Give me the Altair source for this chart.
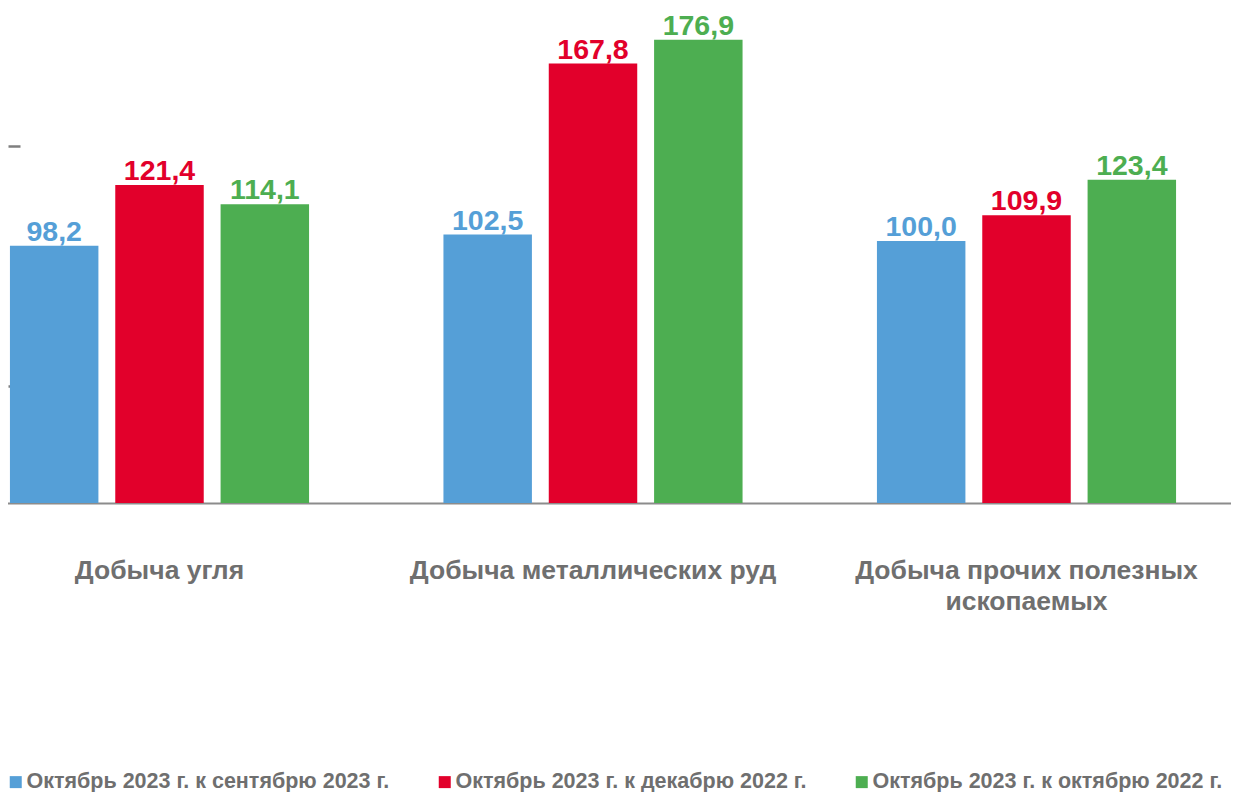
import altair as alt
import pandas as pd

categories = ["Добыча угля", "Добыча металлических руд", "Добыча прочих полезных ископаемых"]
series = [
    "Октябрь 2023 г. к сентябрю 2023 г.",
    "Октябрь 2023 г. к декабрю 2022 г.",
    "Октябрь 2023 г. к октябрю 2022 г.",
]
vals_sep = [98.2, 102.5, 100.0]
vals_dec = [121.4, 167.8, 109.9]
vals_oct = [114.1, 176.9, 123.4]
colors = ["#559FD7", "#E2002B", "#4DAE51"]
y_ticks = [44.5, 136.4]

rows = []
for s, vals in zip(series, [vals_sep, vals_dec, vals_oct]):
    for c, v in zip(categories, vals):
        rows.append({"cat": c, "series": s, "value": v,
                     "label": f"{v:.1f}".replace(".", ",")})
df = pd.DataFrame(rows)

grey = "#6f6f6f"

x_enc = alt.X(
    "cat:N", sort=categories,
    scale=alt.Scale(range=[-65.25, 1235.25], paddingInner=0, paddingOuter=0),
    axis=alt.Axis(
        title=None, labelAngle=0, ticks=False, grid=False,
        domainColor="#8c8c8c", domainWidth=2,
        labelFontSize=26.5, labelFontWeight="bold", labelColor=grey,
        labelPadding=54, labelBaseline="top", labelLineHeight=31,
        labelLimit=1000, labelOverlap=False, labelBound=False, labelFlush=False,
        labelExpr="datum.label == 'Добыча прочих полезных ископаемых' ? ['Добыча прочих полезных', 'ископаемых'] : datum.label",
    ),
)
xo_enc = alt.XOffset("series:N", sort=series,
                     scale=alt.Scale(paddingInner=0.16, paddingOuter=0.638))
y_enc = alt.Y(
    "value:Q",
    scale=alt.Scale(domain=[0, 189], nice=False, zero=True),
    axis=alt.Axis(
        title=None, values=y_ticks, labels=False, domain=False, grid=False,
        ticks=True, tickSize=12, offset=-12, tickColor="#7f7f7f", tickWidth=2.5,
    ),
)
color_enc = alt.Color(
    "series:N", sort=series,
    scale=alt.Scale(domain=series, range=colors),
    legend=alt.Legend(
        orient="none", legendX=-3, legendY=763, direction="horizontal",
        columns=3, columnPadding=44, title=None, padding=0,
        symbolType="square", symbolSize=144, symbolStrokeWidth=0,
        labelFontSize=21.5, labelFontWeight="bold", labelColor=grey,
        labelOffset=0, labelLimit=1000,
    ),
)

base = alt.Chart(df).encode(x=x_enc, xOffset=xo_enc, y=y_enc, color=color_enc)
bars = base.mark_bar()
labels = base.mark_text(
    fontSize=28.5, fontWeight="bold", baseline="alphabetic", align="center", dy=-5
).encode(text="label:N")

chart = (
    alt.layer(bars, labels)
    .properties(
        width=1223, height=495,
        autosize=alt.AutoSizeParams(type="none"),
        padding={"left": 0, "top": 0, "right": 0, "bottom": 289},
        view=alt.ViewBackground(stroke="transparent", strokeWidth=0),
    )
    .configure_view(strokeWidth=0, stroke="transparent")
    .configure(font="Liberation Sans")
)

chart.save("out.html", embed_options={"renderer": "svg", "actions": False})
